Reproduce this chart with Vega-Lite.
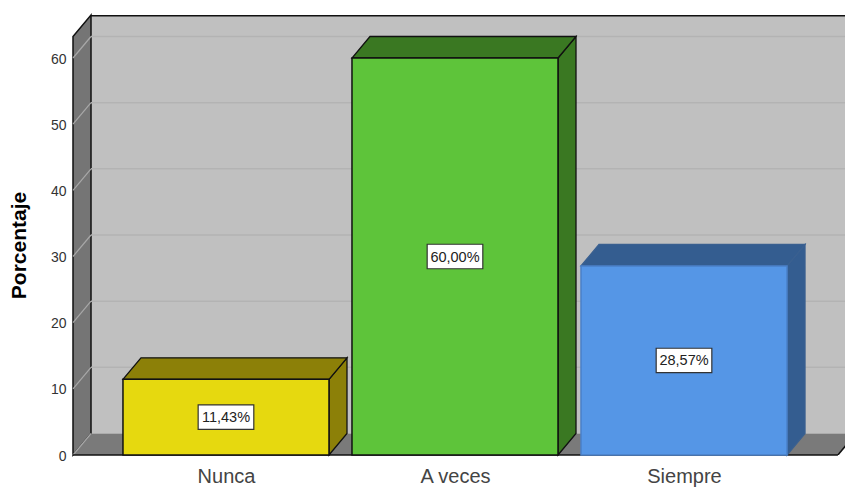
{
"width":772,"height":440,
"autosize":{"type":"none"},
"padding":{"left":73,"top":15,"right":0,"bottom":32},
"background":"white",
"config":{"font":"Liberation Sans","view":{"stroke":null}},
"params":[
{"name":"dx","value":0.0786},
{"name":"dy","value":3.25},
{"name":"mitad","value":0.4498},
{"name":"xmin","value":-0.668},
{"name":"xmax","value":2.703},
{"name":"xfin","value":2.672},
{"name":"ytop","value":66.5}
],
"datasets":{
"barras":[
{"categoria":"Nunca","orden":0,"valor":11.43,"etiqueta":"11,43%"},
{"categoria":"A veces","orden":1,"valor":60,"etiqueta":"60,00%"},
{"categoria":"Siempre","orden":2,"valor":28.57,"etiqueta":"28,57%"}
],
"marcas":[{"marca":0},{"marca":10},{"marca":20},{"marca":30},{"marca":40},{"marca":50},{"marca":60}],
"profundidad":[{"prof":0},{"prof":1}]
},
"layer":[
{"data":{"name":"marcas"},
"transform":[{"filter":"datum.marca===0"},{"calculate":"xmin+dx","as":"px"},{"calculate":"xmax","as":"px2"},{"calculate":"dy","as":"py"},{"calculate":"ytop","as":"py2"}],
"mark":{"type":"rect","fill":"#c0c0c0"},
"encoding":{
"x":{"field":"px","type":"quantitative","scale":{"domain":[-0.668,2.703],"nice":false,"zero":false},
"axis":{"values":[0,1,2],"grid":false,"ticks":false,"domain":false,"title":null,"labelFontSize":20,"labelColor":"#444444","labelPadding":11,"labelExpr":"datum.value===0?'Nunca':datum.value===1?'A veces':'Siempre'"}},
"x2":{"field":"px2"},
"y":{"field":"py","type":"quantitative","scale":{"domain":[0,66.5],"nice":false,"zero":false},
"axis":{"values":[0,10,20,30,40,50,60],"grid":false,"ticks":false,"domain":false,"labelFontSize":14,"labelColor":"#333333","labelPadding":7,"labelOffset":1,"title":"Porcentaje","titleFontSize":21,"titleFontWeight":"bold","titleColor":"black","titleX":-44,"titleY":230}},
"y2":{"field":"py2"}}},
{"data":{"name":"profundidad"},
"transform":[{"calculate":"xmin+datum.prof*dx","as":"px"},{"calculate":"datum.prof*dy","as":"py"},{"calculate":"ytop-dy+datum.prof*dy","as":"py2"}],
"mark":{"type":"area","fill":"#757575","stroke":"#111111","strokeWidth":1.5},
"encoding":{"x":{"field":"px","type":"quantitative"},"y":{"field":"py","type":"quantitative"},"y2":{"field":"py2"}}},
{"data":{"name":"profundidad"},
"transform":[{"calculate":"xmin+datum.prof*dx","as":"px"},{"calculate":"xfin+datum.prof*dx","as":"px2"},{"calculate":"datum.prof*dy","as":"py"}],
"mark":{"type":"area","orient":"horizontal","fill":"#7a7a7a","clip":true},
"encoding":{"x":{"field":"px","type":"quantitative"},"x2":{"field":"px2"},"y":{"field":"py","type":"quantitative"}}},
{"data":{"name":"marcas"},
"transform":[{"filter":"datum.marca>0"},{"calculate":"datum.marca+dy","as":"py"},{"calculate":"xmin+dx","as":"px"},{"calculate":"xmax","as":"px2"}],
"mark":{"type":"rule","stroke":"#b3b3b3","strokeWidth":1.5},
"encoding":{"x":{"field":"px","type":"quantitative"},"x2":{"field":"px2"},"y":{"field":"py","type":"quantitative"}}},
{"data":{"name":"marcas"},
"transform":[{"calculate":"[0,1]","as":"prof"},{"flatten":["prof"]},{"calculate":"xmin+datum.prof*dx","as":"px"},{"calculate":"datum.marca+datum.prof*dy","as":"py"}],
"mark":{"type":"line","stroke":"#a8a8a8","strokeWidth":1.2},
"encoding":{"x":{"field":"px","type":"quantitative"},"y":{"field":"py","type":"quantitative"},"detail":{"field":"marca","type":"nominal"}}},
{"data":{"name":"marcas"},
"transform":[{"filter":"datum.marca===0"},{"calculate":"xmin+dx","as":"px"},{"calculate":"xmax","as":"px2"},{"calculate":"ytop-0.1","as":"py"}],
"mark":{"type":"rule","stroke":"#111111","strokeWidth":1.5},
"encoding":{"x":{"field":"px","type":"quantitative"},"x2":{"field":"px2"},"y":{"field":"py","type":"quantitative"}}},
{"data":{"name":"marcas"},
"transform":[{"filter":"datum.marca===0"},{"calculate":"xmin","as":"px"},{"calculate":"xfin","as":"px2"}],
"mark":{"type":"rule","stroke":"#111111","strokeWidth":1.5},
"encoding":{"x":{"field":"px","type":"quantitative"},"x2":{"field":"px2"},"y":{"field":"marca","type":"quantitative"}}},
{"data":{"name":"profundidad"},
"transform":[{"calculate":"xfin+datum.prof*dx","as":"px"},{"calculate":"datum.prof*dy","as":"py"}],
"mark":{"type":"line","stroke":"#111111","strokeWidth":1.5,"clip":true},
"encoding":{"x":{"field":"px","type":"quantitative"},"y":{"field":"py","type":"quantitative"}}},
{"data":{"name":"barras"},
"transform":[{"calculate":"[0,1]","as":"prof"},{"flatten":["prof"]},{"calculate":"datum.orden+mitad+datum.prof*dx","as":"px"},{"calculate":"datum.prof*dy","as":"py"},{"calculate":"datum.valor+datum.prof*dy","as":"py2"},{"calculate":"datum.categoria+' sombra'","as":"tono"}],
"mark":{"type":"area","strokeWidth":1.3},
"encoding":{"x":{"field":"px","type":"quantitative"},"y":{"field":"py","type":"quantitative"},"y2":{"field":"py2"},
"color":{"field":"tono","type":"nominal","legend":null},
"stroke":{"field":"tono","type":"nominal","legend":null}}},
{"data":{"name":"barras"},
"transform":[{"calculate":"[0,1]","as":"prof"},{"flatten":["prof"]},{"calculate":"datum.orden-mitad+datum.prof*dx","as":"px"},{"calculate":"datum.orden+mitad+datum.prof*dx","as":"px2"},{"calculate":"datum.valor+datum.prof*dy","as":"py"},{"calculate":"datum.categoria+' sombra'","as":"tono"}],
"mark":{"type":"area","orient":"horizontal","strokeWidth":1.3},
"encoding":{"x":{"field":"px","type":"quantitative"},"x2":{"field":"px2"},"y":{"field":"py","type":"quantitative"},
"color":{"field":"tono","type":"nominal","legend":null},
"stroke":{"field":"tono","type":"nominal","legend":null}}},
{"data":{"name":"barras"},
"transform":[{"calculate":"datum.orden-mitad","as":"px"},{"calculate":"datum.orden+mitad","as":"px2"},{"calculate":"0","as":"base"}],
"mark":{"type":"rect","strokeWidth":1.5},
"encoding":{"x":{"field":"px","type":"quantitative"},"x2":{"field":"px2"},"y":{"field":"base","type":"quantitative"},"y2":{"field":"valor"},
"color":{"field":"categoria","type":"nominal","legend":null,"scale":{"domain":["Nunca","A veces","Siempre","Nunca sombra","A veces sombra","Siempre sombra"],"range":["#e6d90f","#5ec43a","#5596e6","#8c8008","#3a7822","#345d90"]}},
"stroke":{"field":"categoria","type":"nominal","legend":null,"scale":{"domain":["Nunca","A veces","Siempre","Nunca sombra","A veces sombra","Siempre sombra"],"range":["#111111","#111111","#4a80c8","#111111","#111111","#3a6090"]}}}},
{"data":{"name":"barras"},
"transform":[{"calculate":"datum.orden-0.1215","as":"px"},{"calculate":"datum.orden+0.1215","as":"px2"},{"calculate":"datum.valor/2-1.85","as":"py"},{"calculate":"datum.valor/2+1.85","as":"py2"}],
"mark":{"type":"rect","fill":"white","stroke":"#333333","strokeWidth":1.2},
"encoding":{"x":{"field":"px","type":"quantitative"},"x2":{"field":"px2"},"y":{"field":"py","type":"quantitative"},"y2":{"field":"py2"}}},
{"data":{"name":"barras"},
"transform":[{"calculate":"datum.valor/2","as":"centro"}],
"mark":{"type":"text","fontSize":14.5,"color":"#222222","align":"center","baseline":"middle","dy":1},
"encoding":{"x":{"field":"orden","type":"quantitative"},"y":{"field":"centro","type":"quantitative"},"text":{"field":"etiqueta"}}}
]
}
